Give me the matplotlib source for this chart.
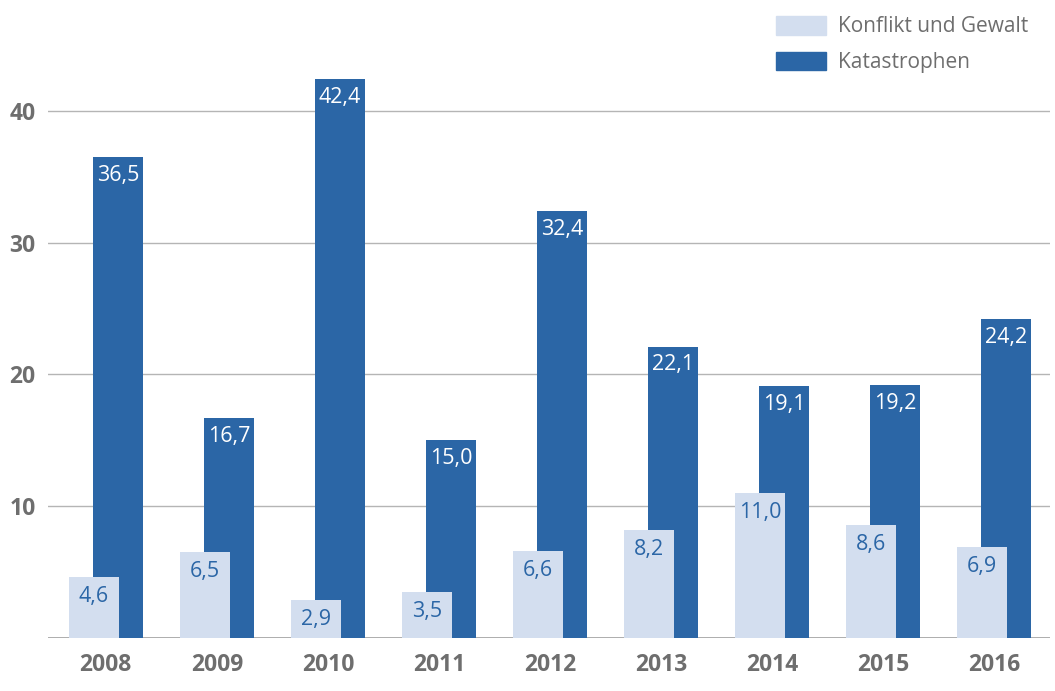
import matplotlib
matplotlib.use("Agg")
import matplotlib.pyplot as plt
import numpy as np
from matplotlib.patches import Patch

years = ["2008", "2009", "2010", "2011", "2012", "2013", "2014", "2015", "2016"]
konflikt = [4.6, 6.5, 2.9, 3.5, 6.6, 8.2, 11.0, 8.6, 6.9]
katastrophen = [36.5, 16.7, 42.4, 15.0, 32.4, 22.1, 19.1, 19.2, 24.2]
yticks = [10, 20, 30, 40]

light = "#d3deef"
dark = "#2b66a6"
grey = "#6e6e6e"

plt.rcParams['font.family'] = ['Open Sans', 'DejaVu Sans']

fig = plt.figure(figsize=(10.55, 6.91), dpi=100)
ax = fig.add_axes([0.0455, 0.0767, 0.9495, 0.9153])

x = np.arange(len(years))
w = 0.45
off = 0.11
b2 = ax.bar(x + off, katastrophen, width=w, color=dark, zorder=2)
b1 = ax.bar(x - off, konflikt, width=w, color=light, zorder=3)

def fmt(v):
    return f"{v:.1f}".replace(".", ",")

for xi, v in zip(x, katastrophen):
    ax.annotate(fmt(v), (xi + off, v), xytext=(0, -5.5), textcoords="offset points",
                ha="center", va="top", color="white", fontsize=15.5, zorder=4)
for xi, v in zip(x, konflikt):
    ax.annotate(fmt(v), (xi - off, v), xytext=(0, -6.5), textcoords="offset points",
                ha="center", va="top", color=dark, fontsize=15.5, zorder=4)

ax.set_xlim(-0.52, 8.5)
ax.set_ylim(0, 48)
ax.set_yticks(yticks)
ax.set_yticklabels([str(t) for t in yticks], fontsize=16.5, fontweight="bold", color=grey)
ax.set_xticks(x)
ax.set_xticklabels(years, fontsize=16.5, fontweight="bold", color=grey)
ax.tick_params(axis="both", length=0)
ax.tick_params(axis="y", pad=9)
ax.tick_params(axis="x", pad=11)
ax.grid(axis="y", color="#b5b5b5", linewidth=1, zorder=0)
ax.axhline(0, color="#a0a0a0", linewidth=1.2, zorder=1)
for s in ax.spines.values():
    s.set_visible(False)

handles = [Patch(color=light, label="Konflikt und Gewalt"),
           Patch(color=dark, label="Katastrophen")]
leg = fig.legend(handles=handles, loc="upper left", bbox_to_anchor=(0.718, 1.004),
                 frameon=False, fontsize=15, handlelength=2.4, handleheight=1.0,
                 labelspacing=0.68, handletextpad=0.55, labelcolor=grey)

fig.savefig("out.png", dpi=100)
